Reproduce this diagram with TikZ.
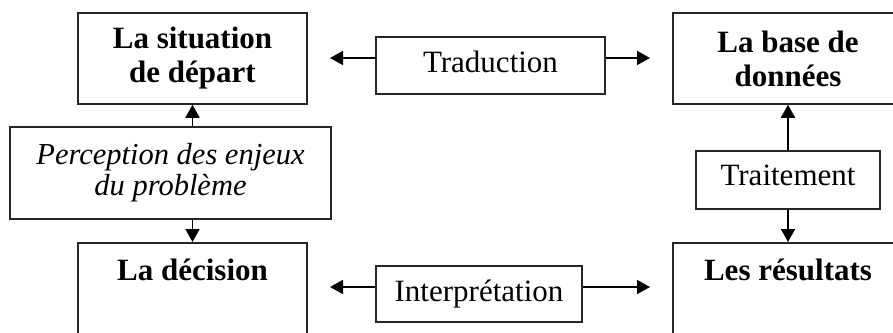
\documentclass[tikz,border=0pt]{standalone}
\usepackage{fontspec}
\setmainfont{Liberation Serif}
\usetikzlibrary{arrows.meta}
\begin{document}
\begin{tikzpicture}[x=1pt,y=-1pt,
  box/.style={draw=black!85, line width=1.5pt, inner xsep=0pt, inner ysep=0pt, align=center, fill=white},
  arr/.style={draw=black, line width=1.6pt, -{Triangle[length=13pt,width=14pt]}},
  bf/.style={font=\fontsize{31}{34}\selectfont\bfseries},
  rm/.style={font=\fontsize{31}{34}\selectfont},
  itf/.style={font=\fontsize{30.5}{31}\selectfont\itshape}]
\useasboundingbox (0,0) rectangle (893,332);
\clip (0,0) rectangle (893,332);
% boxes
\node[box,bf,minimum width=229pt,minimum height=91pt] (sit) at (192.5,58.5) {La situation\\de départ};
\node[box,bf,minimum width=230pt,minimum height=91pt] (base) at (788,58.5) {La base de\\données};
\node[box,rm,minimum width=229pt,text height=36pt,text depth=21pt,anchor=north] (trad) at (490.5,36) {Traduction};
\node[box,itf,minimum width=321pt,minimum height=92pt] (perc) at (170.5,173) {Perception des enjeux\\du problème};
\node[box,rm,minimum width=184pt,text height=35pt,text depth=23pt,anchor=north] (trai) at (788,150) {Traitement};
\node[box,bf,minimum width=229pt,text height=38pt,text depth=70pt,anchor=north] (dec) at (192.5,242) {La décision};
\node[box,bf,minimum width=230pt,text height=38pt,text depth=70pt,anchor=north] (res) at (788,242) {Les résultats};
\node[box,rm,minimum width=206pt,text height=36pt,text depth=20pt,anchor=north] (interp) at (479,265) {Interprétation};
% free ends
\coordinate (tl) at (330,58);
\coordinate (tr) at (650,58);
\coordinate (il) at (330,287);
\coordinate (ir) at (650,287);
% connectors
\draw[arr] (trad.west |- tl) -- (tl);
\draw[arr] (trad.east |- tr) -- (tr);
\draw[arr] (interp.west |- il) -- (il);
\draw[arr] (interp.east |- ir) -- (ir);
\draw[arr] (sit.south |- perc.north) -- (sit.south);
\draw[arr] (sit.south |- perc.south) -- (dec.north);
\draw[arr] (trai.north) -- (base.south);
\draw[arr] (trai.south) -- (res.north);
\end{tikzpicture}
\end{document}
